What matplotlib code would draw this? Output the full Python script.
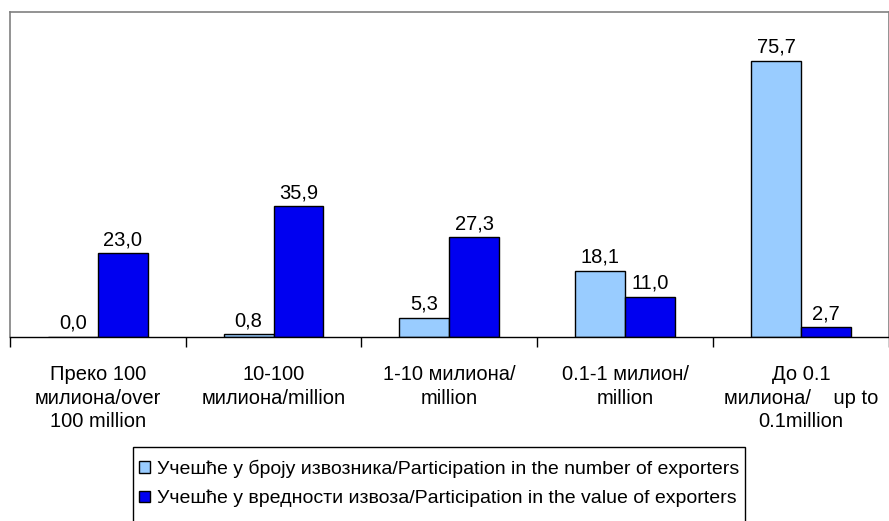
import matplotlib
matplotlib.use("Agg")
import matplotlib.pyplot as plt
from matplotlib.patches import Rectangle
import numpy as np

plt.rcParams['font.family'] = ['Liberation Sans', 'DejaVu Sans']

categories = ["Преко 100\nмилиона/over\n100 million",
              "10-100\nмилиона/million",
              "1-10 милиона/\nmillion",
              "0.1-1 милион/\nmillion",
              "До 0.1\nмилиона/    up to\n0.1million"]
number_share = [0.0, 0.8, 5.3, 18.1, 75.7]
value_share = [23.0, 35.9, 27.3, 11.0, 2.7]
series_names = ["Учешће у броју извозника/Participation in the number of exporters",
                "Учешће у вредности извоза/Participation in the value of exporters"]

fig = plt.figure(figsize=(8.89, 5.21), dpi=100)
ax = fig.add_axes([0.011, 1 - 337/521, 0.989, (337 - 12)/521])

x = np.arange(len(categories))
w = 0.284
b1 = ax.bar(x - w/2, number_share, w, color='#99CCFF', edgecolor='black', linewidth=1, label=series_names[0])
b2 = ax.bar(x + w/2, value_share, w, color='#0000F0', edgecolor='black', linewidth=1, label=series_names[1])

for bars, vals in ((b1, number_share), (b2, value_share)):
    for rect, v in zip(bars, vals):
        ax.text(rect.get_x() + rect.get_width()/2, v + 2.2, f"{v:.1f}".replace('.', ','),
                ha='center', va='baseline', fontsize=14.5)

ax.set_xlim(-0.5, len(categories) - 0.5)
ax.set_ylim(0, 89.1)
ax.set_yticks([])
ax.set_xticks(x)
ax.set_xticklabels(categories, fontsize=14.5, linespacing=1.32)
ax.tick_params(axis='x', which='major', length=0, pad=20)
ax.set_xticks(np.arange(len(categories) + 1) - 0.5, minor=True)
ax.tick_params(axis='x', which='minor', length=7, width=1, color='black')

for s in ('left', 'top', 'right'):
    ax.spines[s].set_color('#808080')
    ax.spines[s].set_linewidth(1.2)
ax.spines['bottom'].set_color('black')
ax.spines['bottom'].set_linewidth(1)

leg = fig.legend(loc='upper center', bbox_to_anchor=(0.494, 1 - 452/521), fontsize=14,
                 frameon=False, handlelength=0.55,
                 handleheight=0.55, handletextpad=0.35, labelspacing=0.6, borderpad=0.4,
                 borderaxespad=0)

# legend frame box
fig.patches.append(Rectangle((133/889, -0.01), (745 - 133)/889, 1 - 447/521 + 0.01,
                             transform=fig.transFigure, fill=False, edgecolor='black',
                             linewidth=1, zorder=0))

fig.savefig("out.png", dpi=100)
